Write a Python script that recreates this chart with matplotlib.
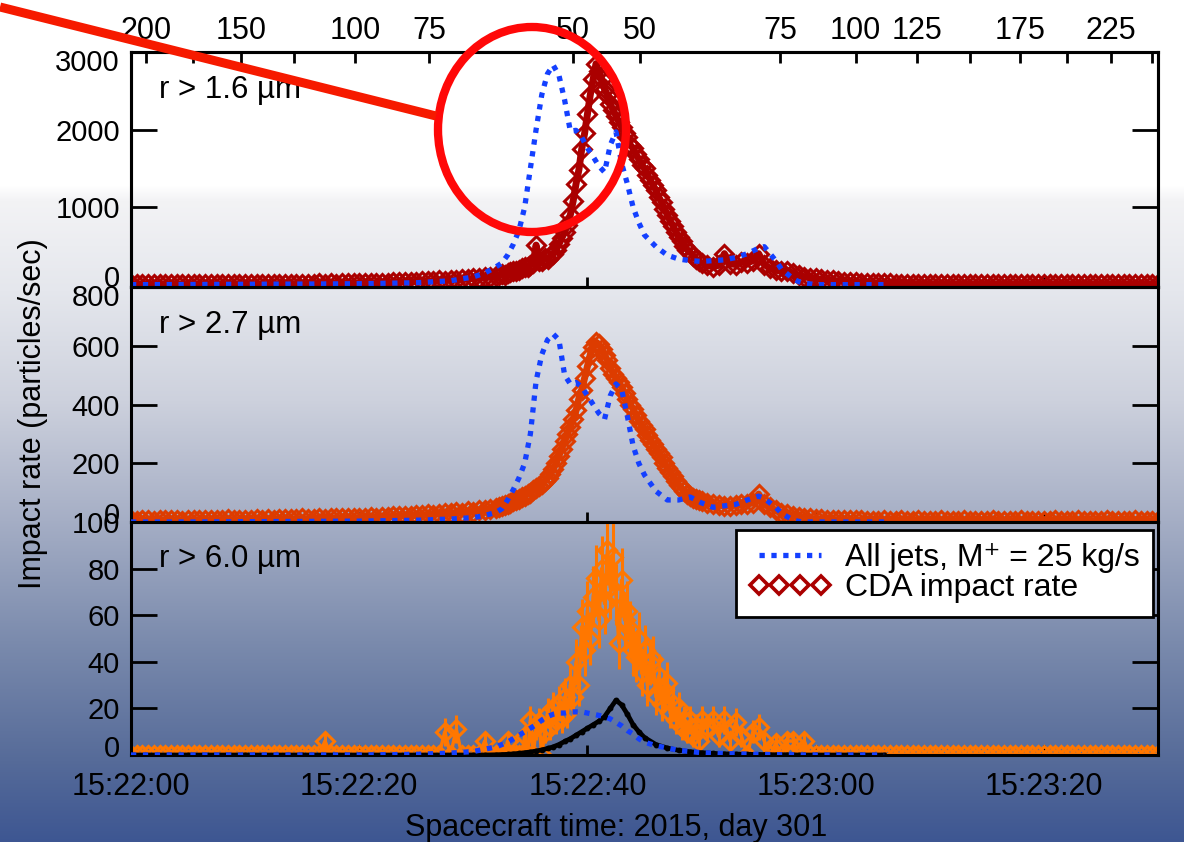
import numpy as np
import matplotlib
matplotlib.use("Agg")
import matplotlib.pyplot as plt
import matplotlib.colors as mcolors
from matplotlib.patches import Ellipse
from matplotlib.lines import Line2D
from matplotlib.transforms import offset_copy

plt.rcParams['font.family'] = ['Liberation Sans', 'DejaVu Sans']

# ---------------- data ----------------
# seconds after 15:22:00 (spacecraft time, 2015 day 301)
cda_time = np.concatenate([np.arange(0, 32.01, 0.5),
                           np.arange(32.25, 50.01, 0.25),
                           np.arange(50.5, 90.01, 0.5)])

cda_r16 = [
    8, 6, 9, 7, 8, 10, 7, 9, 8, 6, 9, 8, 10, 7, 9, 8, 11, 9, 8, 10,
    10, 12, 9, 11, 13, 10, 12, 14, 11, 13, 15, 12, 14, 16, 13, 18, 15, 17, 20, 18,
    22, 20, 25, 23, 28, 26, 30, 34, 32, 38, 40, 45, 42, 50, 55, 52, 60, 65, 70, 75,
    80, 90, 95, 105, 115,
    120, 135, 130, 150, 160, 175, 170, 195, 210, 230, 225, 260, 280, 510, 310, 300, 340, 330, 370, 400,
    450, 520, 600, 680, 770, 900, 1080, 1300, 1480, 1750, 1950, 2200, 2450, 2650, 2850, 2750, 2650, 2520, 2450, 2330,
    2250, 2180, 2100, 2030, 1950, 1900, 1800, 1760, 1680, 1620, 1540, 1500, 1420, 1350, 1280, 1220, 1130, 1060, 980, 900,
    820, 760, 680, 610, 560, 500, 450, 420, 370, 330, 300, 280,
    250, 230, 250, 400, 270, 260, 290, 280, 310, 400, 260, 210, 190, 170, 180, 150, 120, 100, 90, 80,
    70, 60, 55, 48, 40, 35, 30, 28, 25, 22, 20, 18, 16, 15, 14, 12, 12, 11, 10, 10,
    10, 9, 10, 8, 9, 10, 8, 9, 8, 10, 9, 8, 9, 10, 8, 9, 8, 9, 10, 8,
    9, 8, 10, 9, 8, 9, 10, 8, 9, 8, 9, 10, 8, 9, 8, 10, 9, 8, 9, 8,
]

cda_r27 = [
    6, 5, 7, 6, 5, 7, 6, 8, 6, 5, 7, 6, 8, 7, 6, 8, 7, 9, 7, 8,
    8, 7, 9, 8, 10, 8, 9, 11, 9, 10, 12, 10, 11, 13, 11, 12, 14, 12, 15, 13,
    15, 14, 17, 15, 18, 17, 20, 19, 22, 21, 24, 23, 26, 25, 28, 30, 29, 33, 32, 36,
    35, 40, 42, 45, 48,
    50, 55, 58, 62, 66, 70, 74, 80, 85, 90, 96, 100, 108, 115, 122, 130, 140, 150, 165, 180,
    200, 225, 250, 275, 300, 325, 350, 380, 420, 450, 490, 530, 570, 595, 612, 605, 590, 570, 550, 525,
    505, 490, 475, 460, 440, 420, 400, 385, 365, 345, 330, 315, 295, 280, 265, 250, 235, 220, 200, 185,
    170, 155, 140, 125, 115, 105, 95, 88, 82, 78, 74, 70,
    65, 60, 58, 55, 55, 58, 60, 62, 65, 95, 60, 50, 40, 30, 28, 22, 18, 15, 12, 10,
    9, 8, 8, 7, 7, 6, 6, 6, 5, 5, 5, 6, 5, 5, 6, 5, 5, 6, 5, 5,
    5, 6, 5, 4, 5, 6, 5, 5, 4, 5, 6, 5, 5, 4, 5, 6, 5, 5, 4, 5,
    5, 6, 5, 4, 5, 6, 5, 5, 4, 5, 6, 5, 5, 4, 5, 6, 5, 5, 4, 5,
]

cda_r60 = ([0] * 34 + [6] + [0] * 20 + [10, 0, 11, 0, 0, 0, 0, 6, 0, 0] + [
    0, 0, 0, 6, 0, 0, 0, 0, 0, 8, 0, 15, 0, 12, 14, 0, 10, 18, 12, 20,
    15, 22, 16, 25, 18, 30, 25, 40, 30, 55, 45, 62, 50, 68, 76, 58, 80, 65, 88, 72,
    85, 69, 48, 75, 58, 62, 54, 45, 42, 50, 35, 45, 30, 40, 41, 25, 34, 22, 28, 31,
    18, 22, 15, 20, 12, 15, 10, 15, 8, 12, 6, 15,
    12, 15, 8, 15, 6, 14, 8, 0, 10, 12, 6, 0, 5, 0, 6, 6, 0, 6, 0, 0,
] + [0] * 60)

cda_r60_err = ([0] * 34 + [3.5] + [0] * 20 + [6, 0, 6, 0, 0, 0, 0, 4, 0, 0] + [
    0, 0, 0, 4, 0, 0, 0, 0, 0, 4.5, 0, 6, 0, 5.5, 6, 0, 5, 6.5, 5.5, 7,
    6, 7.5, 6.5, 8, 6.5, 9, 8, 10, 9, 12, 11, 12.5, 11.5, 13, 14, 12, 14, 13, 15, 13.5,
    14.5, 13, 11, 14, 12, 12.5, 12, 11, 10.5, 11.5, 9.5, 11, 9, 10, 10, 8, 9.5, 7.5, 8.5, 9,
    6.5, 7.5, 6, 7, 5.5, 6, 5, 6, 4.5, 5.5, 4, 6,
    5.5, 6, 4.5, 6, 4, 6, 4.5, 0, 5, 5.5, 4, 0, 3.5, 0, 4, 4, 0, 4, 0, 0,
] + [0] * 60)

model_time = [0, 5, 10, 15, 20, 25, 28, 30, 31, 32,
              32.5, 33, 33.5, 34, 34.5, 35, 35.5, 36, 36.5, 37, 37.5, 38, 38.5, 39, 39.5,
              40, 40.5, 41, 41.5, 42, 42.5, 43, 43.5, 44, 44.5, 45,
              46, 47, 48, 49, 50, 51, 52, 53, 54, 55,
              55.5, 56, 56.5, 57, 57.5, 58, 58.5, 59,
              60, 62, 64, 66]

model_r16 = [0, 2, 5, 8, 12, 25, 50, 100, 150, 230,
             280, 380, 520, 700, 1000, 1500, 2000, 2450, 2720, 2830, 2700, 2380, 1980, 1990, 1900,
             1760, 1650, 1530, 1450, 1800, 1970, 1560, 1300, 1000, 800, 640,
             490, 380, 330, 310, 300, 310, 320, 350, 400, 470,
             490, 400, 310, 200, 140, 80, 40, 20,
             0, 0, 0, 0]

model_r27 = [0, 0, 1, 2, 3, 6, 10, 15, 22, 33,
             45, 75, 110, 150, 200, 300, 480, 570, 620, 640, 620, 500, 470, 475, 460,
             430, 400, 370, 350, 430, 470, 450, 360, 260, 200, 160,
             105, 75, 75, 85, 65, 50, 55, 60, 75, 88,
             80, 65, 50, 30, 18, 8, 2, 0,
             0, 0, 0, 0]

model_r60 = [0, 0, 0, 0, 0, 0.3, 0.8, 1.5, 2.5, 3.5,
             4.5, 5.5, 7, 8.5, 10, 11.5, 13, 15, 16.5, 17.5, 18, 18, 18.5, 18.5, 18.5,
             18, 17.5, 17, 16.5, 15.5, 14, 12.5, 10.5, 9, 7, 5.5,
             4, 3, 2, 1.5, 1, 0.8, 0.6, 0.5, 0.4, 0.3,
             0.3, 0.2, 0.2, 0.1, 0.1, 0.1, 0, 0,
             0, 0, 0, 0]

model_r60_black = [0, 0, 0, 0, 0, 0, 0, 0, 0, 0.1,
                   0.2, 0.3, 0.5, 0.7, 1, 1.3, 1.7, 2.2, 2.8, 3.5, 4.5, 5.8, 7, 8.5, 10,
                   11.5, 13, 14.5, 16.5, 20, 23.5, 21.5, 17.5, 13, 10, 7.5,
                   4.5, 3, 2, 1.4, 1, 0.7, 0.5, 0.4, 0.3, 0.2,
                   0.2, 0.15, 0.1, 0.1, 0.1, 0.05, 0, 0,
                   0, 0, 0, 0]

assert len(cda_r16) == len(cda_time) == len(cda_r27) == len(cda_r60) == len(cda_r60_err)
assert len(model_time) == len(model_r16) == len(model_r27) == len(model_r60) == len(model_r60_black)

time_ticks = [0, 20, 40, 60, 80]
time_labels = ['15:22:00', '15:22:20', '15:22:40', '15:23:00', '15:23:20']

alt_tick_time = [1.3, 5.45, 9.65, 14.3, 19.65, 26.15, 38.7, 44.6, 56.9, 63.5, 68.85, 73.5, 77.9, 82.0, 85.9, 89.5]
alt_tick_labels = ['200', '', '150', '', '100', '75', '50', '50', '75', '100', '125', '', '175', '', '225', '']

panel_labels = ['r > 1.6 \u00b5m', 'r > 2.7 \u00b5m', 'r > 6.0 \u00b5m']
yticks_list = [[0, 1000, 2000, 3000], [0, 200, 400, 600, 800], [0, 20, 40, 60, 80, 100]]
ylims = [(-30, 3000), (0, 800), (0, 100)]

# ---------------- figure ----------------
W, H = 1184, 842
fig = plt.figure(figsize=(W / 100, H / 100), dpi=100)

# background gradient
bg = fig.add_axes([0, 0, 1, 1], zorder=-10)
stop_y = [0, 185, 200, 290, 400, 520, 640, 760, 842]
stop_c = ['#ffffff', '#ffffff', '#f3f3f5', '#e5e7ed', '#cdd1dd', '#a5aec5', '#7b8bad', '#566b99', '#3d5692']
rgb = np.array([mcolors.to_rgb(c) for c in stop_c])
rows = np.arange(H)
grad = np.stack([np.interp(rows, stop_y, rgb[:, k]) for k in range(3)], axis=-1)
bg.imshow(np.repeat(grad[:, None, :], 2, axis=1), aspect='auto', extent=[0, 1, 0, 1])
bg.axis('off')

blue = '#1440ff'
cda_colors = ['#aa0000', '#dd3c00', '#ff7700']
dotted = (0, (1, 1.25))

L, R = 131, 1158
panel_px = [(52, 287), (287, 522), (522, 755)]
axes = []
for (top, bot) in panel_px:
    ax = fig.add_axes([L / W, (H - bot) / H, (R - L) / W, (bot - top) / H])
    ax.set_facecolor('none')
    axes.append(ax)

cda_sets = [cda_r16, cda_r27, cda_r60]
model_sets = [model_r16, model_r27, model_r60]

for i, ax in enumerate(axes):
    col = cda_colors[i]
    if i == 2:
        ax.errorbar(cda_time, cda_sets[i], yerr=cda_r60_err, fmt='none', ecolor=col,
                    elinewidth=2.2, capsize=0, zorder=2)
        ax.plot(cda_time, cda_sets[i], color=col, lw=2.5, zorder=2)
        ax.plot(model_time, model_r60_black, color='black', lw=3.4, marker='o', ms=3.2,
                zorder=3)
    else:
        ax.plot(cda_time, cda_sets[i], color=col, lw=5, zorder=2)
    ax.plot(cda_time, cda_sets[i], ls='none', marker='D', ms=9.5, mfc='none', mec=col,
            mew=2.2, zorder=2)
    ax.plot(model_time, model_sets[i], color=blue, lw=3.8, ls=dotted, zorder=4,
            dash_capstyle='butt')

    ax.set_xlim(0, 90)
    ax.set_ylim(*ylims[i])
    for s in ax.spines.values():
        s.set_linewidth(2.2)
    ax.set_xticks(time_ticks)
    if i == 2:
        ax.set_xticklabels(time_labels)
    else:
        ax.set_xticklabels([])
    ax.tick_params(axis='x', direction='in', length=7, width=2, top=False,
                   labelsize=22, pad=12)
    ax.set_yticks(yticks_list[i])
    ax.tick_params(axis='y', direction='in', length=19, width=2, left=True, right=True,
                   labelsize=21, pad=8)
    labs = ax.get_yticklabels()
    labs[0].set_transform(offset_copy(labs[0].get_transform(), fig=fig, x=0, y=9, units='dots'))
    if i < 2:
        labs[-1].set_transform(offset_copy(labs[-1].get_transform(), fig=fig, x=0, y=-8, units='dots'))
    ax.text(0.027, 0.805, panel_labels[i], transform=ax.transAxes, fontsize=22.5,
            ha='left', va='baseline')

# altitude axis on top
alt = axes[0].twiny()
alt.set_xlim(0, 90)
alt.set_xticks(alt_tick_time)
alt.set_xticklabels(alt_tick_labels)
alt.tick_params(axis='x', direction='in', length=8, width=2, labelsize=22, pad=4)
for s in alt.spines.values():
    s.set_linewidth(2.2)

# legend
handles = [Line2D([], [], color=blue, lw=3.8, ls=dotted, dash_capstyle='butt'),
           Line2D([], [], ls='none', marker='D', ms=9, mfc='white', mec='#aa0000', mew=2.6)]
leg = axes[2].legend(handles, ['All jets, M\u207a = 25 kg/s', 'CDA impact rate'],
                     loc='upper right', bbox_to_anchor=(0.9951, 0.966), borderaxespad=0,
                     numpoints=4, handlelength=2.55, handletextpad=0.45, borderpad=0.42,
                     labelspacing=0.0, fontsize=23, fancybox=False, framealpha=1,
                     edgecolor='black', facecolor='white')
leg.get_frame().set_linewidth(2)

fig.text(33 / W, 1 - 414 / H, 'Impact rate (particles/sec)', rotation=90,
         ha='center', va='center', fontsize=22)
fig.text(616 / W, 1 - 836 / H, 'Spacecraft time: 2015, day 301', ha='center',
         va='baseline', fontsize=22)

# red highlight annotation
ov = fig.add_axes([0, 0, 1, 1], zorder=20)
ov.set_xlim(0, W)
ov.set_ylim(H, 0)
ov.axis('off')
ov.plot([0, 436], [7, 116], color='#f61a00', lw=6.5, solid_capstyle='butt')
ov.add_patch(Ellipse((532, 129.5), 188, 205, fill=False, ec='#ff0808', lw=6))

fig.savefig('out.png', dpi=100)
